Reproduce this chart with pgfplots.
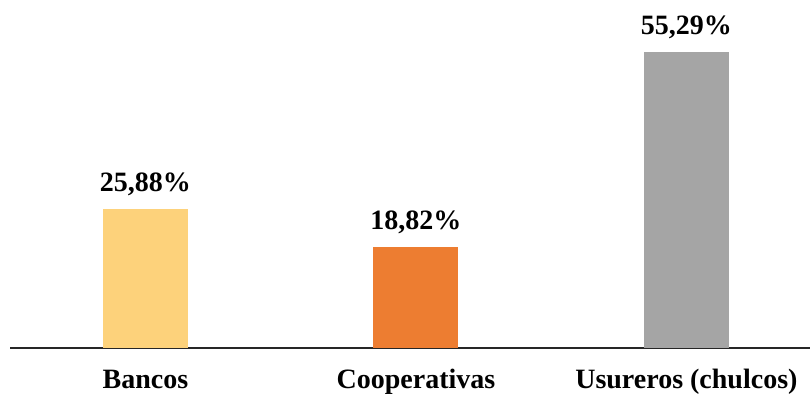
\documentclass[border=0pt]{standalone}
\usepackage{fontspec}
\setmainfont{Liberation Serif}
\usepackage{pgfplots}
\pgfplotsset{compat=1.18}
\definecolor{cYel}{HTML}{FDD27B}
\definecolor{cOra}{HTML}{ED7D31}
\definecolor{cGry}{HTML}{A5A5A5}
\begin{document}
\begin{tikzpicture}
\begin{axis}[
  name=ax,
  at={(0,0)}, anchor=south west,
  scale only axis,
  width=800bp, height=321.2bp,
  xmin=-0.501, xmax=2.457,
  ymin=0, ymax=60,
  axis x line*=bottom,
  axis y line=none,
  x axis line style={line width=2bp, black!85},
  xtick={0,1,2},
  xticklabels={Bancos,Cooperativas,Usureros (chulcos)},
  major tick length=0pt,
  xticklabel style={anchor=base, yshift=-40bp, font=\fontsize{28bp}{32bp}\selectfont\bfseries},
  ybar, bar width=85bp,
  bar shift=0pt,
  point meta=explicit symbolic,
  nodes near coords,
  nodes near coords style={anchor=base, yshift=18bp, font=\fontsize{28bp}{32bp}\selectfont\bfseries, inner sep=0pt},
  clip=false,
]
\addplot[draw=none, fill=cYel] coordinates {(0,25.88) [25,88\%]};
\addplot[draw=none, fill=cOra] coordinates {(1,18.82) [18,82\%]};
\addplot[draw=none, fill=cGry] coordinates {(2,55.29) [55,29\%]};
\end{axis}
\pgfresetboundingbox
\path[use as bounding box] (-10bp,-46bp) rectangle (800bp,348bp);
\end{tikzpicture}
\end{document}
